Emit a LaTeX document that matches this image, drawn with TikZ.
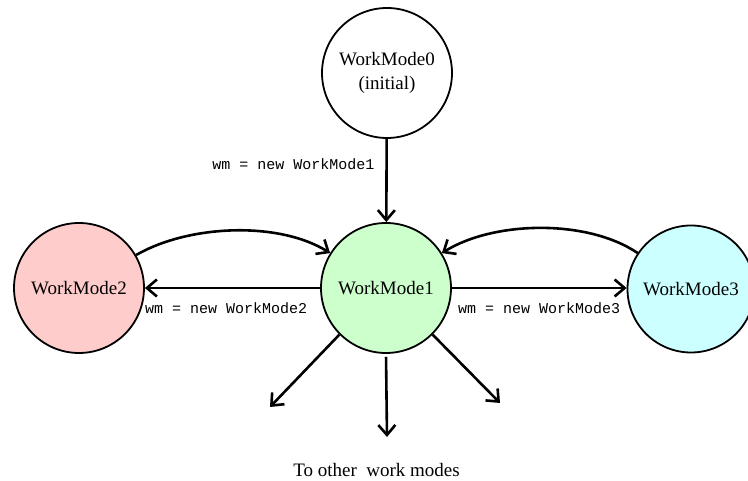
\documentclass[tikz,border=0pt]{standalone}
\usepackage{fontspec}
\setmainfont{Liberation Serif}
\setmonofont{Liberation Mono}
\usetikzlibrary{arrows.meta}

\definecolor{modepink}{RGB}{255,204,204}
\definecolor{modegreen}{RGB}{204,255,204}
\definecolor{modecyan}{RGB}{204,255,255}

\tikzset{
  mode/.style={circle, draw=black, line width=1.8pt, minimum size=130pt,
    inner sep=0pt, align=center, font=\fontsize{19}{24}\selectfont},
  trans/.style={line width=2.6pt,
    -{Straight Barb[length=10pt, width=17pt, line width=2.6pt]}},
  codelabel/.style={inner sep=0pt, font=\ttfamily\fontsize{15}{18}\selectfont},
  plainlabel/.style={inner sep=0pt, font=\fontsize{19}{24}\selectfont}
}

\begin{document}
\begin{tikzpicture}[x=1pt, y=1pt]
  \useasboundingbox (0,0) rectangle (748,481);

  % states
  \node[mode, fill=white]     (wm0) at (387,408) {WorkMode0\\(initial)};
  \node[mode, fill=modegreen] (wm1) at (386,193) {WorkMode1};
  \node[mode, fill=modepink]  (wm2) at (79,193)  {WorkMode2};
  \node[mode, fill=modecyan, minimum size=127pt] (wm3) at (691,192) {WorkMode3};

  % transitions out of the initial mode and between modes
  \draw[trans] (wm0) -- (wm1)
    node[codelabel, pos=0.3, anchor=east, xshift=-11pt] {wm = new WorkMode1};
  \draw[trans] (wm1.west) -- (wm2.east)
    node[codelabel, pos=1, anchor=west, xshift=-1pt, yshift=-20pt] {wm = new WorkMode2};
  \draw[trans] (wm1.east) -- (wm3.west |- wm1.east)
    node[codelabel, pos=0, anchor=west, xshift=5pt, yshift=-20pt] {wm = new WorkMode3};
  \draw[trans] (wm2.30) to[out=30, in=148, looseness=0.8] (wm1.148);
  \draw[trans] (wm3.146) to[out=146, in=32, looseness=0.8] (wm1.32);

  % fan-out to further modes
  \coordinate (outL) at (270,74);
  \coordinate (outM) at (387,44);
  \coordinate (outR) at (500,78);
  \draw[trans] (wm1.-135) -- (outL);
  \draw[trans, shorten <=3pt] (wm1.south) -- (outM);
  \draw[trans] (wm1.-45) -- (outR);

  \node[plainlabel, anchor=base] (others) at (376.5,4) {To other\ \ work modes};
\end{tikzpicture}
\end{document}
